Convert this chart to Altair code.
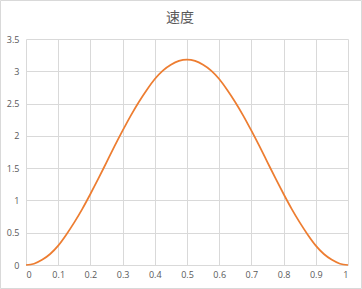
import altair as alt
import pandas as pd

title_text = "速度"
t_vals = [0.0, 0.025, 0.05, 0.075, 0.1, 0.125, 0.15, 0.175, 0.2, 0.225, 0.25,
          0.275, 0.3, 0.325, 0.35, 0.375, 0.4, 0.425, 0.45, 0.475, 0.5,
          0.525, 0.55, 0.575, 0.6, 0.625, 0.65, 0.675, 0.7, 0.725, 0.75,
          0.775, 0.8, 0.825, 0.85, 0.875, 0.9, 0.925, 0.95, 0.975, 1.0]
speed = [0.0, 0.02, 0.08, 0.17, 0.30, 0.47, 0.66, 0.87, 1.10, 1.34, 1.59,
         1.84, 2.08, 2.31, 2.52, 2.71, 2.88, 3.01, 3.10, 3.16, 3.18,
         3.16, 3.10, 3.01, 2.88, 2.71, 2.52, 2.31, 2.08, 1.84, 1.59,
         1.34, 1.10, 0.87, 0.66, 0.47, 0.30, 0.17, 0.08, 0.02, 0.0]
x_ticks = [0, 0.1, 0.2, 0.3, 0.4, 0.5, 0.6, 0.7, 0.8, 0.9, 1]
y_ticks = [0, 0.5, 1, 1.5, 2, 2.5, 3, 3.5]

df = pd.DataFrame({"t": t_vals, "v": speed})

line = alt.Chart(df).mark_line(color="#ED7D31", strokeWidth=1.75, interpolate="monotone").encode(
    x=alt.X("t:Q", scale=alt.Scale(domain=[0, 1], nice=False),
            axis=alt.Axis(values=x_ticks, format="~g", title=None)),
    y=alt.Y("v:Q", scale=alt.Scale(domain=[0, 3.5], nice=False),
            axis=alt.Axis(values=y_ticks, format="~g", title=None)),
)

one = pd.DataFrame({"a": [0]})
border = alt.Chart(one).mark_rect(
    fill=None, stroke="#d9d9d9", strokeWidth=1
).encode(
    x=alt.value(-25.5), x2=alt.value(335.5), y=alt.value(-38.5), y2=alt.value(249.5)
)

title = alt.Chart(one).mark_text(
    text=title_text, font="Noto Sans CJK SC", fontSize=14, color="#595959",
    align="center", baseline="middle"
).encode(x=alt.value(154), y=alt.value(-21))

chart = alt.layer(border, line, title).properties(
    width=322, height=226,
    autosize=alt.AutoSizeParams(type="none"),
    padding={"left": 26, "top": 39, "right": 14, "bottom": 24},
).configure_view(stroke=None).configure_axis(
    grid=True, gridColor="#d9d9d9", gridWidth=1, domain=False, ticks=False, tickSize=0,
    labelFont="Open Sans", labelFontSize=9, labelColor="#595959",
).configure_axisX(labelPadding=5).configure_axisY(labelPadding=7)

chart.save("out.html", embed_options={"renderer": "svg", "actions": False})
